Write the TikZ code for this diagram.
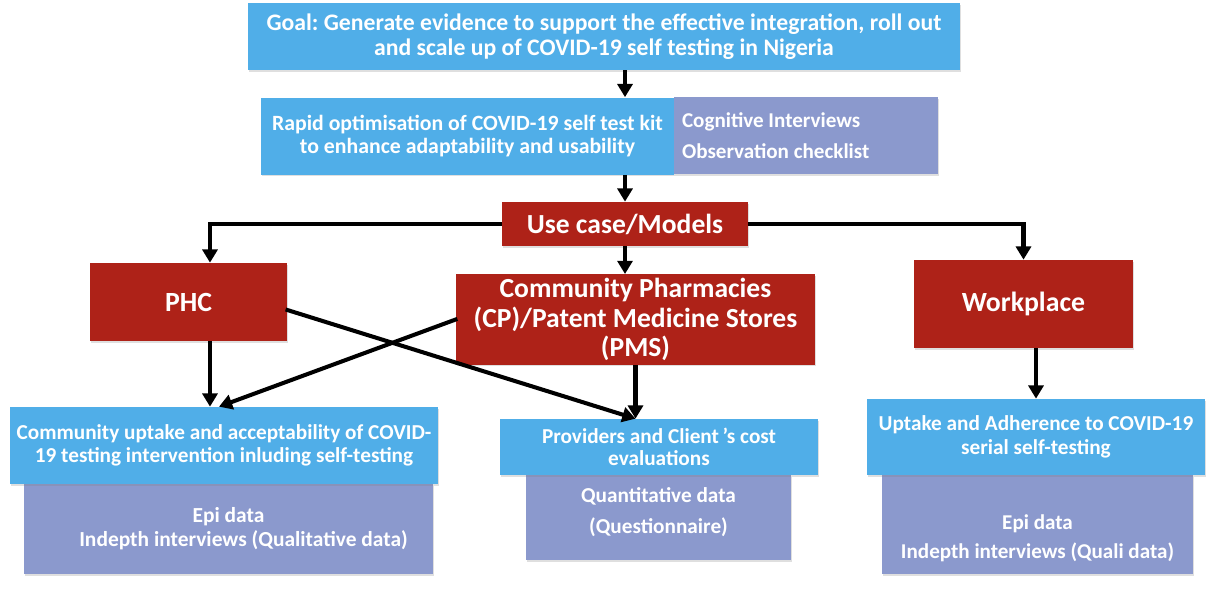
\documentclass[tikz,border=0pt]{standalone}
\usepackage{fontspec}
\setmainfont{Carlito}
\frenchspacing
\usetikzlibrary{arrows.meta,shadows}
\definecolor{GoalBlue}{HTML}{50AEE8}
\definecolor{UseRed}{HTML}{AE2218}
\definecolor{DataLilac}{HTML}{8B99CD}

\tikzset{
  box/.style={rectangle,inner sep=2pt,align=center,text=white,font=\bfseries,
    drop shadow={shadow xshift=0.7pt,shadow yshift=-0.9pt,opacity=0.25}},
  bluebox/.style={box,fill=GoalBlue},
  redbox/.style={box,fill=UseRed},
  databox/.style={box,fill=DataLilac},
  flow/.style={line width=2.3pt,-{Triangle[width=8.5pt,length=7.5pt]}},
  crossflow/.style={line width=2.3pt,-{Triangle[width=8.5pt,length=7.5pt]},shorten <=-1pt}
}

\begin{document}
\begin{tikzpicture}[x=0.02cm,y=-0.02cm]
  \useasboundingbox (0,0) rectangle (1215,593);
  % top of the chart
  \node[bluebox,minimum width=14.24cm,minimum height=1.34cm,font=\bfseries\fontsize{13.5}{14.6}\selectfont]
    (goal) at (604,36.5) {Goal: Generate evidence to support the effective integration, roll out\\and scale up of COVID-19 self testing in Nigeria};
  \node[bluebox,minimum width=8.26cm,minimum height=1.54cm,font=\bfseries\fontsize{12.4}{13.2}\selectfont]
    (rapid) at (467.5,136) {Rapid optimisation of COVID-19 self test kit\\to enhance adaptability and usability};
  \node[databox,minimum width=5.28cm,minimum height=1.54cm,text width=4.96cm,align=flush left,
    font=\bfseries\fontsize{12}{13}\selectfont]
    (cog) at (806,135.5) {Cognitive Interviews\\[5pt]Observation checklist};
  \node[redbox,minimum width=4.92cm,minimum height=0.88cm,font=\bfseries\fontsize{15.7}{17}\selectfont]
    (usecase) at (625,224) {Use case/Models};

  % the three models
  \node[redbox,minimum width=3.94cm,minimum height=1.56cm,font=\bfseries\fontsize{15.8}{17}\selectfont]
    (phc) at (188.5,302) {PHC};
  \node[redbox,minimum width=7.18cm,minimum height=1.78cm,font=\bfseries\fontsize{15.7}{17}\selectfont]
    (cp) at (635.5,319.5) {Community Pharmacies\\(CP)/Patent Medicine Stores\\(PMS)};
  \node[redbox,minimum width=4.38cm,minimum height=1.76cm,font=\bfseries\fontsize{15.8}{17}\selectfont]
    (wp) at (1023.5,304) {Workplace};

  % outcomes and data
  \node[databox,minimum width=8.18cm,minimum height=1.8cm,font=\bfseries\fontsize{12.2}{13.6}\selectfont]
    (cudata) at (228.5,529) {Epi data\\\hspace*{1.4em}Indepth interviews (Qualitative data)};
  \node[bluebox,minimum width=8.56cm,minimum height=1.54cm,font=\bfseries\fontsize{12.1}{13}\selectfont]
    (cu) at (224,445.5) {Community uptake and acceptability of COVID-\\19 testing intervention inluding self-testing};
  \node[databox,minimum width=5.3cm,minimum height=1.7cm,font=\bfseries\fontsize{12.1}{13}\selectfont]
    (provdata) at (658.5,517.5) {Quantitative data\\[5pt](Questionnaire)\\[-5pt]};
  \node[bluebox,minimum width=6.36cm,minimum height=1.12cm,font=\bfseries\fontsize{12.1}{12.6}\selectfont]
    (prov) at (659,447) {Providers and Client\,'s cost\\evaluations};
  \node[databox,minimum width=6.22cm,minimum height=1.98cm,font=\bfseries\fontsize{12}{13}\selectfont]
    (updata) at (1037.5,524.5) {\rule{0pt}{24pt}Epi data\\[4pt]Indepth interviews (Quali data)};
  \node[bluebox,minimum width=6.76cm,minimum height=1.52cm,font=\bfseries\fontsize{12.1}{13.6}\selectfont]
    (up) at (1036,437) {Uptake and Adherence to COVID-19\\serial self-testing};

  % connectors
  \draw[flow] (goal.south -| usecase.north) -- (rapid.north -| usecase.north);
  \draw[flow] (rapid.south -| usecase.north) -- (usecase.north);
  \draw[flow] (usecase.south) -- (usecase.south |- cp.north);
  \draw[flow] (usecase.west) -| ([xshift=0.43cm]phc.north);
  \draw[flow] (usecase.east) -| (wp.north);
  \draw[flow] ([xshift=0.43cm]phc.south) -- ([xshift=0.43cm]phc.south |- cu.north);
  \draw[crossflow] ([yshift=-0.16cm]phc.east) -- (cp.south |- prov.north);
  \draw[crossflow] (cp.west) -- ([xshift=-0.1cm]cu.north);
  \draw[flow] (cp.south) -- (cp.south |- prov.north);
  \draw[flow] (up.north |- wp.south) -- (up.north);
\end{tikzpicture}
\end{document}
